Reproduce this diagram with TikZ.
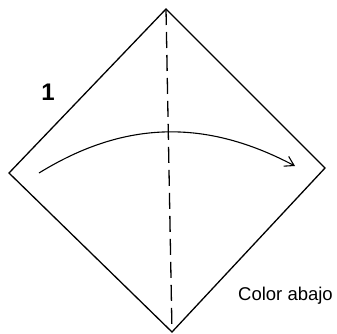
\documentclass[tikz,border=0pt]{standalone}
\usepackage{fontspec}
\setmainfont{Liberation Sans}
\usetikzlibrary{arrows.meta}
\begin{document}
\begin{tikzpicture}[x=1pt,y=-1pt,
  edge/.style={line width=1.3pt,line join=miter},
  fold/.style={line width=1.3pt,dash pattern=on 16pt off 7pt},
  arr/.style={line width=1.1pt,-{Straight Barb[length=9pt,width=11pt]}},
  lbl/.style={inner sep=0pt,anchor=base,font=\fontsize{18.5}{20}\selectfont},
  num/.style={inner sep=0pt,anchor=base,font=\fontsize{24}{26}\selectfont\bfseries}]
\useasboundingbox (0,0) rectangle (337,333);
\coordinate (T) at (166,9);
\coordinate (L) at (9,173);
\coordinate (R) at (325,168);
\coordinate (B) at (172,332);
\coordinate (S) at (39,173);
\coordinate (E) at (295,166);
\draw[edge] (T) -- (R) -- (B) -- (L) -- cycle;
\draw[fold] (T) -- (B);
\draw[arr] (S) .. controls (125,120) and (206,119) .. (E);
\node[num] (one) at (48,100) {1};
\node[lbl] (col) at (285.5,300) {Color abajo};
\end{tikzpicture}
\end{document}
